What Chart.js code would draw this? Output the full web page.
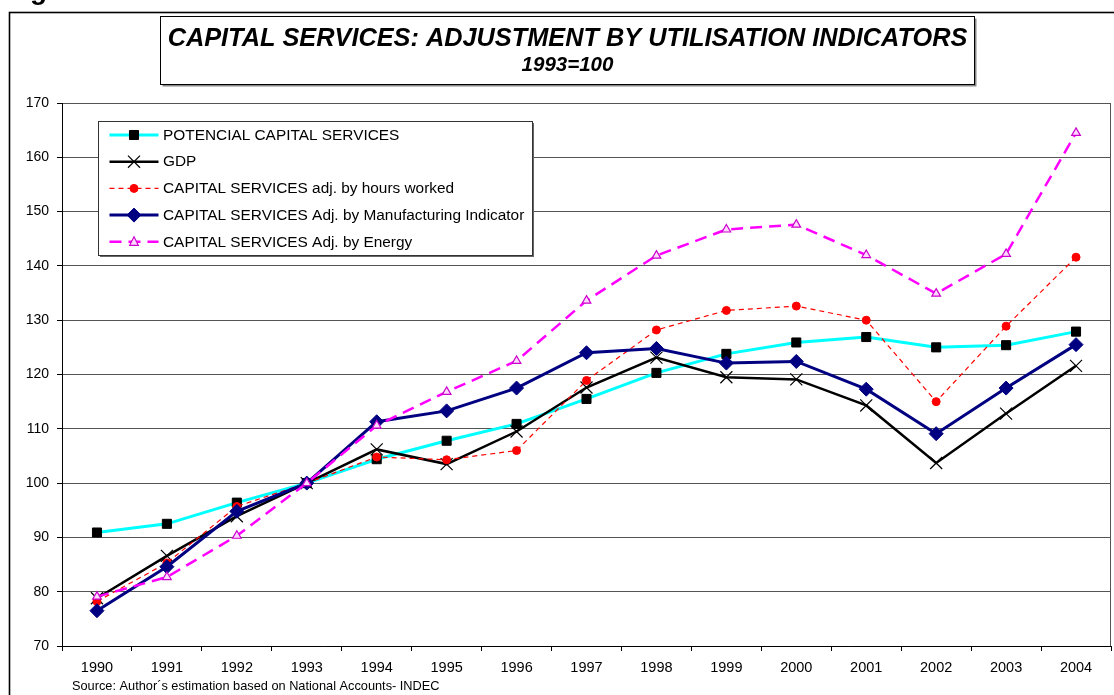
<!DOCTYPE html>
<html>
<head>
<meta charset="utf-8">
<script src="https://cdn.jsdelivr.net/npm/chart.js@4.4.1/dist/chart.umd.min.js"></script>
<style>
  html, body { margin: 0; padding: 0; background: #ffffff; }
  #wrap { width: 1114px; height: 695px; position: relative; }
</style>
</head>
<body>
<div id="wrap"><canvas id="c" width="1114" height="695"></canvas></div>
<script>
// ---------- DATA ----------
const years = ['1990','1991','1992','1993','1994','1995','1996','1997','1998','1999','2000','2001','2002','2003','2004'];
const potencialCapital = [90.9, 92.5, 96.4, 100, 104.4, 107.8, 110.9, 115.5, 120.3, 123.8, 125.9, 126.9, 125.0, 125.4, 127.9];
const gdp              = [78.8, 86.6, 93.9, 100, 106.2, 103.5, 109.5, 117.6, 123.1, 119.5, 119.1, 114.3, 103.7, 112.8, 121.6];
const adjHours         = [78.2, 85.3, 95.7, 100, 104.8, 104.3, 106.0, 118.9, 128.2, 131.8, 132.6, 130.0, 115.0, 128.9, 141.6];
const adjManufacturing = [76.5, 84.6, 94.8, 100, 111.3, 113.3, 117.5, 124.0, 124.8, 122.1, 122.4, 117.3, 109.1, 117.5, 125.5];
const adjEnergy        = [79.1, 82.7, 90.3, 100, 110.6, 116.8, 122.5, 133.6, 141.9, 146.7, 147.6, 142.0, 134.9, 142.2, 164.5];
const seriesLabels = [
  'POTENCIAL CAPITAL SERVICES',
  'GDP',
  'CAPITAL SERVICES adj. by hours worked',
  'CAPITAL SERVICES Adj. by Manufacturing Indicator',
  'CAPITAL SERVICES Adj. by Energy'
];
const yMin = 70, yMax = 170, yStep = 10;
const titleText = 'CAPITAL SERVICES: ADJUSTMENT BY UTILISATION INDICATORS';
const subtitleText = '1993=100';
const sourceText = 'Source: Author\u00b4s estimation based on National Accounts- INDEC';

const FONT = '"Liberation Sans", Arial, Helvetica, sans-serif';

function fitSize(ctx, text, style, targetW) {
  ctx.font = style + ' 100px ' + FONT;
  return 100 * targetW / ctx.measureText(text).width;
}

function drawMarker(ctx, style, x, y, r, fill, stroke, lw) {
  ctx.save();
  ctx.fillStyle = fill; ctx.strokeStyle = stroke; ctx.lineWidth = lw || 1;
  ctx.setLineDash([]);
  ctx.beginPath();
  if (style === 'rect') {
    const s = Math.SQRT1_2 * r;
    ctx.rect(x - s, y - s, 2 * s, 2 * s);
    ctx.fill(); ctx.stroke();
  } else if (style === 'rectRot') {
    ctx.moveTo(x, y - r); ctx.lineTo(x + r, y); ctx.lineTo(x, y + r); ctx.lineTo(x - r, y); ctx.closePath();
    ctx.fill(); ctx.stroke();
  } else if (style === 'circle') {
    ctx.arc(x, y, r, 0, Math.PI * 2);
    ctx.fill(); ctx.stroke();
  } else if (style === 'triangle') {
    ctx.moveTo(x, y - r); ctx.lineTo(x + r * 0.866, y + r * 0.5 + 1); ctx.lineTo(x - r * 0.866, y + r * 0.5 + 1); ctx.closePath();
    ctx.fill(); ctx.stroke();
  } else if (style === 'crossRot') {
    const d = Math.cos(Math.PI / 4) * r;
    ctx.moveTo(x - d, y - d); ctx.lineTo(x + d, y + d);
    ctx.moveTo(x + d, y - d); ctx.lineTo(x - d, y + d);
    ctx.stroke();
  }
  ctx.restore();
}

const datasets = [
  { label: seriesLabels[0], data: potencialCapital, borderColor: '#00FFFF', borderWidth: 3,
    pointStyle: 'rect', pointRadius: 6.4, pointBackgroundColor: '#000000', pointBorderColor: '#000000', pointBorderWidth: 1, order: 5 },
  { label: seriesLabels[1], data: gdp, borderColor: '#000000', borderWidth: 2.5,
    pointStyle: 'crossRot', pointRadius: 8.5, pointBackgroundColor: '#000000', pointBorderColor: '#000000', pointBorderWidth: 1.2, order: 4 },
  { label: seriesLabels[2], data: adjHours, borderColor: '#FF0000', borderWidth: 1.2, borderDash: [5, 4],
    pointStyle: 'circle', pointRadius: 4, pointBackgroundColor: '#FF0000', pointBorderColor: '#FF0000', pointBorderWidth: 1, order: 3 },
  { label: seriesLabels[3], data: adjManufacturing, borderColor: '#000080', borderWidth: 3,
    pointStyle: 'rectRot', pointRadius: 7, pointBackgroundColor: '#000080', pointBorderColor: '#000080', pointBorderWidth: 1, order: 2 },
  { label: seriesLabels[4], data: adjEnergy, borderColor: '#FF00FF', borderWidth: 2.5, borderDash: [12, 7],
    pointStyle: 'triangle', pointRadius: 5, pointBackgroundColor: '#FFD9FF', pointBorderColor: '#CC00CC', pointBorderWidth: 1.2, order: 1 }
];
datasets.forEach(d => { d.fill = false; d.tension = 0; d.pointHoverRadius = d.pointRadius; });

const decor = {
  id: 'decor',
  beforeDraw(chart) {
    const ctx = chart.ctx;
    ctx.save();
    ctx.fillStyle = '#ffffff';
    ctx.fillRect(0, 0, chart.width, chart.height);
    ctx.restore();
  },
  afterDraw(chart) {
    const ctx = chart.ctx;
    const ca = chart.chartArea;
    ctx.save();
    // plot area right border
    ctx.strokeStyle = '#555555'; ctx.lineWidth = 1; ctx.setLineDash([]);
    ctx.beginPath(); ctx.moveTo(ca.right - 0.5, ca.top); ctx.lineTo(ca.right - 0.5, ca.bottom); ctx.stroke();

    // outer frame
    ctx.strokeStyle = '#000000'; ctx.lineWidth = 1.6;
    ctx.strokeRect(9.5, 12.5, 1300, 900);

    // cut-off heading fragment at very top
    ctx.fillStyle = '#000000';
    ctx.font = 'bold 28px ' + FONT;
    ctx.textBaseline = 'alphabetic'; ctx.textAlign = 'left';
    ctx.fillText('Fig', 5, -1);

    // title box with shadow
    const tb = { x: 160.5, y: 16.5, w: 814, h: 68 };
    ctx.fillStyle = '#888888';
    ctx.fillRect(tb.x + 2, tb.y + 2, tb.w, tb.h);
    ctx.fillStyle = '#ffffff';
    ctx.fillRect(tb.x, tb.y, tb.w, tb.h);
    ctx.strokeStyle = '#000000'; ctx.lineWidth = 1;
    ctx.strokeRect(tb.x, tb.y, tb.w, tb.h);
    const cx = tb.x + tb.w / 2;
    ctx.fillStyle = '#000000';
    ctx.textAlign = 'center'; ctx.textBaseline = 'middle';
    let fs = fitSize(ctx, titleText, 'italic bold', 800);
    ctx.font = 'italic bold ' + fs + 'px ' + FONT;
    ctx.fillText(titleText, cx, 39);
    fs = fitSize(ctx, subtitleText, 'italic bold', 92);
    ctx.font = 'italic bold ' + fs + 'px ' + FONT;
    ctx.fillText(subtitleText, cx, 65);

    // legend box
    const lb = { x: 98.5, y: 121.5, w: 434, h: 134 };
    ctx.fillStyle = '#666666';
    ctx.fillRect(lb.x + 1.5, lb.y + 1.5, lb.w, lb.h);
    ctx.fillStyle = '#ffffff';
    ctx.fillRect(lb.x, lb.y, lb.w, lb.h);
    ctx.strokeStyle = '#333333'; ctx.lineWidth = 1;
    ctx.strokeRect(lb.x, lb.y, lb.w, lb.h);
    ctx.font = '15.4px ' + FONT;
    ctx.textAlign = 'left'; ctx.textBaseline = 'middle';
    chart.data.datasets.forEach((ds, i) => {
      const y = 135 + i * 26.7;
      ctx.save();
      ctx.strokeStyle = ds.borderColor; ctx.lineWidth = ds.borderWidth;
      ctx.setLineDash(ds.borderDash || []);
      ctx.beginPath(); ctx.moveTo(109.5, y); ctx.lineTo(158.5, y); ctx.stroke();
      ctx.restore();
      drawMarker(ctx, ds.pointStyle, 134, y, ds.pointRadius,
        ds.pointBackgroundColor, ds.pointBorderColor, ds.pointBorderWidth);
      ctx.fillStyle = '#000000';
      ctx.fillText(ds.label, 163, y + 0.5);
    });

    // source text
    ctx.fillStyle = '#000000';
    fs = fitSize(ctx, sourceText, '', 368);
    ctx.font = fs + 'px ' + FONT;
    ctx.textAlign = 'left'; ctx.textBaseline = 'middle';
    ctx.fillText(sourceText, 72, 686);
    ctx.restore();
  }
};

new Chart(document.getElementById('c'), {
  type: 'line',
  data: { labels: years, datasets: datasets },
  options: {
    responsive: false,
    animation: false,
    events: [],
    layout: { autoPadding: false, padding: { left: 0, top: 103, right: 3, bottom: 0 } },
    plugins: { legend: { display: false }, title: { display: false }, tooltip: { enabled: false } },
    scales: {
      x: {
        type: 'category',
        offset: true,
        grid: { offset: true, drawOnChartArea: false, drawTicks: true, tickLength: 5, color: '#000000', tickColor: '#000000' },
        border: { display: true, color: '#000000', width: 1 },
        ticks: { color: '#000000', font: { family: FONT, size: 14.5 }, padding: 8, maxRotation: 0, autoSkip: false },
        afterFit(scale) { scale.height = 49; scale.paddingLeft = 0; scale.paddingRight = 0; }
      },
      y: {
        min: yMin, max: yMax,
        grid: { color: '#555555', lineWidth: 1, drawTicks: true, tickLength: 5, tickColor: '#000000' },
        border: { display: true, color: '#000000', width: 1 },
        ticks: { stepSize: yStep, color: '#000000', font: { family: FONT, size: 14 }, padding: 8 },
        afterFit(scale) { scale.width = 62; scale.paddingTop = 0; scale.paddingBottom = 0; }
      }
    }
  },
  plugins: [decor]
});
</script>
</body>
</html>
